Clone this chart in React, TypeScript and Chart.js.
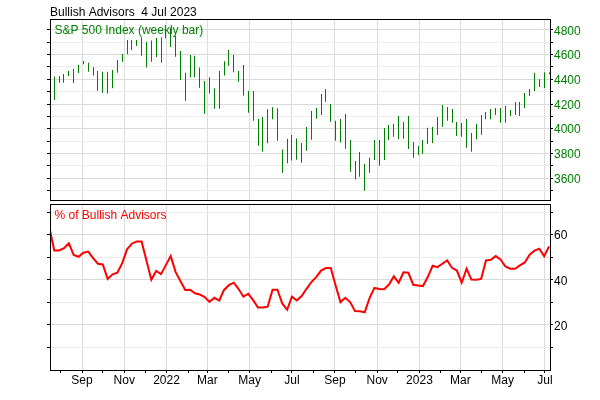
import React, { useEffect, useRef } from "react";
import { Chart, registerables } from "chart.js";

Chart.register(...registerables);

// ---------- text ----------
const TITLE = "Bullish Advisors  4 Jul 2023";
const PRICE_LABEL = "S&P 500 Index (weekly bar)";
const BULL_LABEL = "% of Bullish Advisors";

// ---------- calendar ----------
const FIRST_BAR_DATE = Date.UTC(2021, 6, 23); // weekly bars, Fridays
const FIRST_LINE_DATE = Date.UTC(2021, 6, 16); // survey line starts one week earlier
const AXIS_START_MONTH = [2021, 7]; // Aug 2021
const AXIS_END_MONTH = [2023, 6]; // Jul 2023
const MONTH_NAMES = ["Jan", "Feb", "Mar", "Apr", "May", "Jun", "Jul", "Aug", "Sep", "Oct", "Nov", "Dec"];

// ---------- S&P 500 weekly high / low ----------
const spHigh = [
  4422, 4427, 4443, 4468, 4485, 4518, 4548, 4535, 4497, 4468,
  4462, 4462, 4476, 4557, 4605, 4719, 4719, 4719, 4741, 4705,
  4714, 4735, 4741, 4808, 4818, 4751, 4630, 4454, 4597, 4592,
  4495, 4386, 4416, 4327, 4468, 4546, 4638, 4597, 4468, 4516,
  4308, 4305, 4081, 4095, 4157, 4173, 4165, 3832, 3919, 3949,
  3920, 3884, 4014, 4143, 4168, 4281, 4322, 4200, 4065, 4078,
  4119, 3908, 3738, 3811, 3714, 3765, 3908, 3908, 4005, 4030,
  4041, 4103, 4054, 4103, 3892, 3859, 3908, 4008, 4014, 4095,
  4192, 4176, 4159, 4054, 4046, 4078, 3965, 4038, 4111, 4135,
  4159, 4168, 4168, 4184, 4151, 4216, 4216, 4289, 4322, 4451,
  4400, 4457, 4456,
];
const spLow = [
  4232, 4373, 4373, 4427, 4370, 4452, 4522, 4462, 4432, 4308,
  4292, 4286, 4327, 4454, 4543, 4603, 4638, 4670, 4592, 4495,
  4543, 4580, 4535, 4733, 4662, 4584, 4395, 4227, 4414, 4414,
  4332, 4122, 4286, 4162, 4162, 4432, 4511, 4457, 4381, 4268,
  4130, 4065, 3862, 3814, 3881, 4076, 3903, 3643, 3719, 3743,
  3748, 3724, 3822, 3911, 4081, 4111, 4219, 4057, 3903, 3889,
  3838, 3651, 3589, 3611, 3497, 3643, 3746, 3700, 3746, 3908,
  3935, 3916, 3919, 3835, 3765, 3784, 3797, 3876, 3884, 3949,
  4016, 4065, 4049, 3941, 3935, 3846, 3814, 3914, 3951, 4076,
  4076, 4111, 4049, 4049, 4103, 4111, 4103, 4168, 4265, 4305,
  4338, 4330, 4442,
];

// ---------- % of bullish advisors (weekly) ----------
const bullish = [
  63.0, 53.0, 53.0, 54.0, 56.2, 51.0, 50.2, 52.0, 52.5, 49.6,
  47.1, 46.8, 40.4, 42.4, 43.1, 47.4, 53.5, 56.0, 57.0, 57.0,
  48.5, 40.0, 43.9, 42.5, 46.5, 50.5, 43.5, 39.5, 35.5, 35.6,
  34.0, 33.5, 32.3, 30.2, 32.0, 30.8, 35.5, 37.6, 38.7, 35.9,
  32.5, 33.8, 31.0, 27.7, 27.7, 28.1, 35.6, 35.6, 29.5, 26.7,
  32.5, 30.8, 32.8, 36.0, 39.0, 41.2, 44.1, 45.2, 45.2, 37.5,
  30.1, 32.0, 30.1, 26.1, 26.0, 25.6, 31.9, 36.4, 35.9, 35.8,
  37.9, 41.5, 38.7, 43.3, 43.1, 37.8, 37.5, 37.2, 41.2, 46.2,
  45.6, 47.1, 48.6, 45.3, 44.1, 38.7, 44.9, 40.1, 40.0, 40.4,
  48.6, 48.9, 50.5, 49.0, 45.9, 44.9, 44.9, 46.4, 47.7, 51.1,
  52.9, 53.8, 50.4, 54.8,
];

// ---------- axis ticks ----------
const priceTicks = [3500, 3600, 3700, 3800, 3900, 4000, 4100, 4200, 4300, 4400, 4500, 4600, 4700, 4800];
const priceLabelTicks = [3600, 3800, 4000, 4200, 4400, 4600, 4800];
const bullTicks = [10, 20, 30, 40, 50, 60, 70];
const bullLabelTicks = [20, 40, 60];

const PRICE_MIN = 3422;
const PRICE_MAX = 4889;
const BULL_MIN = 0;
const BULL_MAX = 73.6;
const X_MIN = -6.2;
const X_MAX = 715.4;

// ---------- styles ----------
const FONT_FAMILY = '"Liberation Sans", Arial, Helvetica, sans-serif';
const GREEN = "#008000";
const RED = "#ff0000";
const GRID_MAJOR = "#d9d9d9";
const GRID_MINOR = "#ececec";
const GRID_X = "#dcdcdc";

const DAY = 86400000;
const barDays = spHigh.map((_, i) => (FIRST_BAR_DATE + i * 7 * DAY - FIRST_BAR_DATE) / DAY);
const lineDays = bullish.map((_, k) => (FIRST_LINE_DATE + k * 7 * DAY - FIRST_BAR_DATE) / DAY);

type MonthTick = { value: number; label: string; major: boolean };
function buildMonthTicks(): MonthTick[] {
  const out: MonthTick[] = [];
  let [y, m] = AXIS_START_MONTH;
  while (y < AXIS_END_MONTH[0] || (y === AXIS_END_MONTH[0] && m <= AXIS_END_MONTH[1])) {
    const day = (Date.UTC(y, m, 1) - FIRST_BAR_DATE) / DAY;
    const major = m % 2 === 0;
    out.push({ value: day, label: major ? (m === 0 ? String(y) : MONTH_NAMES[m]) : "", major });
    m++;
    if (m > 11) { m = 0; y++; }
  }
  return out;
}
const monthTicks = buildMonthTicks();
const isMajorMonth = (v: number) => monthTicks.some((t) => t.major && Math.abs(t.value - v) < 0.01);
const monthLabel = (v: number) => {
  const t = monthTicks.find((tt) => Math.abs(tt.value - v) < 0.01);
  return t ? t.label : "";
};

function zeroPad(s: any) {
  s.paddingTop = 0;
  s.paddingBottom = 0;
  s.paddingLeft = 0;
  s.paddingRight = 0;
}

function panelPlugin(label: string, color: string, withTitle: boolean) {
  return {
    id: "panelFrame" + (withTitle ? "1" : "2"),
    afterDraw(chart: any) {
      const { ctx, chartArea: a } = chart;
      ctx.save();
      ctx.strokeStyle = "#000";
      ctx.lineWidth = 1;
      ctx.strokeRect(a.left + 0.5, a.top + 0.5, a.right - a.left, a.bottom - a.top);
      ctx.font = `12px ${FONT_FAMILY}`;
      ctx.textBaseline = "alphabetic";
      ctx.textAlign = "left";
      ctx.fillStyle = color;
      ctx.fillText(label, a.left + 4.5, a.top + 15);
      if (withTitle) {
        ctx.fillStyle = "#000";
        ctx.fillText(TITLE, 50, 16);
      }
      ctx.restore();
    },
  };
}

// snap each weekly bar (positioned by the x scale) onto a single pixel column
const crispBars = {
  id: "crispBars",
  beforeDatasetsDraw(chart: any) {
    const meta = chart.getDatasetMeta(0);
    meta.data.forEach((el: any) => {
      el.x = Math.floor(el.x) + 0.5;
      el.width = 1;
    });
  },
};

function yScales(min: number, max: number, ticks: number[], labels: number[], labelColor: string) {
  const build = (s: any) => {
    s.ticks = ticks.map((v) => ({ value: v }));
  };
  const fitW = (s: any) => {
    s.width = 50;
    zeroPad(s);
  };
  const majorStep = labels.length > 1 ? labels[1] - labels[0] : 1;
  return {
    y: {
      type: "linear" as const,
      position: "right" as const,
      min,
      max,
      afterBuildTicks: build,
      afterFit: fitW,
      border: { display: false },
      grid: {
        color: (c: any) =>
          c.tick && Math.abs(c.tick.value % majorStep) < 0.001 ? GRID_MAJOR : GRID_MINOR,
        tickColor: "#000",
        tickLength: 3,
        lineWidth: 1,
      },
      ticks: {
        autoSkip: false,
        padding: 1,
        labelOffset: 1.5,
        color: labelColor,
        font: { family: FONT_FAMILY, size: 12 },
        callback: (v: any) => (labels.includes(Number(v)) ? String(v) : ""),
      },
    },
    yl: {
      type: "linear" as const,
      position: "left" as const,
      min,
      max,
      afterBuildTicks: build,
      afterFit: fitW,
      border: { display: false },
      grid: { drawOnChartArea: false, tickColor: "#000", tickLength: 3 },
      ticks: { display: false, autoSkip: false },
    },
  };
}

export default function App() {
  const topRef = useRef<HTMLCanvasElement>(null);
  const botRef = useRef<HTMLCanvasElement>(null);

  useEffect(() => {
    const buildX = (s: any) => {
      s.ticks = monthTicks.map((t) => ({ value: t.value }));
    };

    const top = new Chart(topRef.current as HTMLCanvasElement, {
      type: "bar",
      data: {
        datasets: [
          {
            data: spHigh.map((h, i) => ({ x: barDays[i], y: [spLow[i], h] })) as any,
            backgroundColor: GREEN,
            borderWidth: 0,
            barThickness: 1,
            inflateAmount: 0,
            xAxisID: "x",
            yAxisID: "y",
          } as any,
        ],
      },
      options: {
        responsive: false,
        animation: false,
        devicePixelRatio: 1,
        layout: { padding: { top: 19, bottom: 1, left: 0, right: 0 } },
        plugins: { legend: { display: false }, tooltip: { enabled: false } },
        scales: {
          x: {
            type: "linear",
            min: X_MIN,
            max: X_MAX,
            offset: false,
            afterBuildTicks: buildX,
            afterFit: (s: any) => {
              s.height = 0;
              zeroPad(s);
            },
            border: { display: false },
            grid: {
              offset: false,
              drawTicks: false,
              color: (c: any) => (c.tick && isMajorMonth(c.tick.value) ? GRID_X : "rgba(0,0,0,0)"),
            },
            ticks: { display: false, autoSkip: false },
          },
          ...yScales(PRICE_MIN, PRICE_MAX, priceTicks, priceLabelTicks, GREEN),
        } as any,
      },
      plugins: [crispBars, panelPlugin(PRICE_LABEL, GREEN, true)],
    });

    const bot = new Chart(botRef.current as HTMLCanvasElement, {
      type: "line",
      data: {
        datasets: [
          {
            data: bullish.map((v, k) => ({ x: lineDays[k], y: v })),
            borderColor: RED,
            borderWidth: 2,
            pointRadius: 0,
            tension: 0,
            fill: false,
            clip: 0,
            xAxisID: "x",
            yAxisID: "y",
          } as any,
        ],
      },
      options: {
        responsive: false,
        animation: false,
        devicePixelRatio: 1,
        layout: { padding: { top: 3, bottom: 0, left: 0, right: 0 } },
        plugins: { legend: { display: false }, tooltip: { enabled: false } },
        scales: {
          x: {
            type: "linear",
            min: X_MIN,
            max: X_MAX,
            offset: false,
            afterBuildTicks: buildX,
            afterFit: (s: any) => {
              s.height = 30;
              zeroPad(s);
            },
            border: { display: false },
            grid: {
              offset: false,
              drawTicks: true,
              tickLength: 3,
              tickColor: "#000",
              color: (c: any) => (c.tick && isMajorMonth(c.tick.value) ? GRID_X : "rgba(0,0,0,0)"),
            },
            ticks: {
              autoSkip: false,
              maxRotation: 0,
              minRotation: 0,
              padding: 0,
              color: "#000",
              font: { family: FONT_FAMILY, size: 12 },
              callback: (v: any) => monthLabel(Number(v)),
            },
          },
          ...yScales(BULL_MIN, BULL_MAX, bullTicks, bullLabelTicks, "#000"),
        } as any,
      },
      plugins: [panelPlugin(BULL_LABEL, RED, false)],
    });

    return () => {
      top.destroy();
      bot.destroy();
    };
  }, []);

  return (
    <div style={{ position: "absolute", left: 0, top: 0, width: 600, height: 400, background: "#fff" }}>
      <canvas
        ref={topRef}
        width={600}
        height={201}
        style={{ position: "absolute", left: 0, top: 0, width: 600, height: 201 }}
      />
      <canvas
        ref={botRef}
        width={600}
        height={199}
        style={{ position: "absolute", left: 0, top: 201, width: 600, height: 199 }}
      />
    </div>
  );
}
